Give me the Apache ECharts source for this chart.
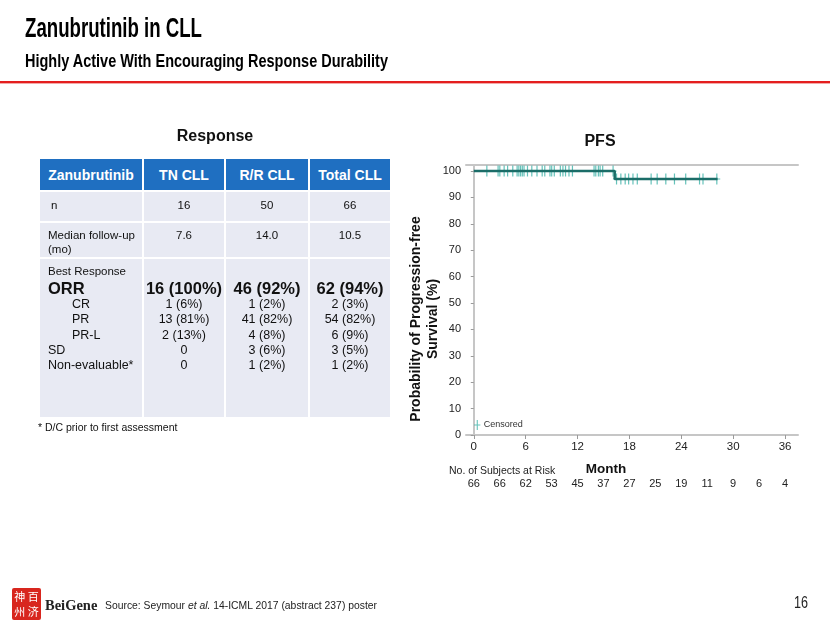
<!DOCTYPE html>
<html><head><meta charset="utf-8">
<script src="https://cdn.jsdelivr.net/npm/echarts@6/dist/echarts.min.js"></script>
<style>
html,body{margin:0;padding:0;background:#fff;}
#page{position:relative;width:830px;height:623px;overflow:hidden;font-family:"Liberation Sans",Arial,sans-serif;color:#111;}
#chart{position:absolute;left:0;top:0;width:830px;height:623px;}
.abs{position:absolute;white-space:nowrap;}
.fit{display:inline-block;transform-origin:0 50%;}
.cell{position:absolute;background:#e8eaf3;}
.hcell{position:absolute;background:#1f6fc1;color:#fff;font-weight:bold;font-size:14px;display:flex;align-items:center;justify-content:center;}
.t{position:absolute;white-space:nowrap;line-height:16px;}
.c{transform:translateX(-50%);}
</style>
</head><body><div id="page">
<div id="chart"></div>
</div>
<script>
// ---------- data ----------
const tableColumns = ["Zanubrutinib", "TN CLL", "R/R CLL", "Total CLL"];
const nRow = ["n", "16", "50", "66"];
const followUpRow = ["Median follow-up", "7.6", "14.0", "10.5"];
const responseLabels = ["ORR", "CR", "PR", "PR-L", "SD", "Non-evaluable*"];
const tnValues = ["16 (100%)", "1 (6%)", "13 (81%)", "2 (13%)", "0", "0"];
const rrValues = ["46 (92%)", "1 (2%)", "41 (82%)", "4 (8%)", "3 (6%)", "1 (2%)"];
const totalValues = ["62 (94%)", "2 (3%)", "54 (82%)", "6 (9%)", "3 (5%)", "1 (2%)"];

const kmMonths = [0, 16.3, 28.2];
const kmSurvival = [100, 97, 97];
const censorMonthsHigh = [1.5, 2.8, 3.0, 3.5, 3.9, 4.5, 5.0, 5.2, 5.4, 5.6, 5.8, 6.2, 6.7, 7.3, 7.9, 8.2, 8.8, 9.0, 9.3, 10.0, 10.3, 10.6, 11.0, 11.4, 13.9, 14.1, 14.4, 14.6, 14.9, 16.1];
const censorMonthsLow = [16.5, 17.0, 17.5, 17.9, 18.4, 18.9, 20.5, 21.2, 22.2, 23.2, 24.5, 26.1, 26.5, 28.1];
const censorSurvHigh = 100;
const censorSurvLow = 97;
const monthTicks = [0, 6, 12, 18, 24, 30, 36];
const survivalTicks = [0, 10, 20, 30, 40, 50, 60, 70, 80, 90, 100];
const riskMonths = [0, 3, 6, 9, 12, 15, 18, 21, 24, 27, 30, 33, 36];
const atRisk = [66, 66, 62, 53, 45, 37, 27, 25, 19, 11, 9, 6, 4];

// ---------- slide chrome & table (HTML) ----------
const page = document.getElementById('page');
function add(html){ page.insertAdjacentHTML('beforeend', html); }
const SANS = "'Liberation Sans',Arial,sans-serif";

add(`<div class="abs" style="left:25px;top:12px;font-family:${SANS};font-weight:bold;font-size:28px;line-height:32px;color:#000;"><span class="fit" data-w="177">Zanubrutinib in CLL</span></div>`);
add(`<div class="abs" style="left:25px;top:50px;font-family:${SANS};font-weight:bold;font-size:18.5px;line-height:22px;color:#000;"><span class="fit" data-w="363">Highly Active With Encouraging Response Durability</span></div>`);
add(`<div class="abs" style="left:0;top:81px;width:830px;height:2px;background:#e41e1e;"></div>`);
add(`<div class="abs" style="left:0;top:83px;width:830px;height:1px;background:#f4a9a9;"></div>`);

// table
const colX = [39, 143, 225, 309, 391];
const rowY = [159, 191, 222, 258, 418];
for (let c = 0; c < 4; c++) {
  add(`<div class="hcell" style="left:${colX[c]+1}px;top:${rowY[0]}px;width:${colX[c+1]-colX[c]-2}px;height:${rowY[1]-rowY[0]-1}px;">${tableColumns[c]}</div>`);
  for (let r = 1; r < 4; r++) {
    add(`<div class="cell" style="left:${colX[c]+1}px;top:${rowY[r]+1}px;width:${colX[c+1]-colX[c]-2}px;height:${rowY[r+1]-rowY[r]-2}px;"></div>`);
  }
}
add(`<div class="abs" style="left:215px;top:127px;font-weight:bold;font-size:16px;transform:translateX(-50%);">Response</div>`);
const colC = [0, 184, 267, 350];
function txt(x, yc, s, size, extra, center){
  add(`<div class="t${center?' c':''}" style="left:${x}px;top:${yc-8}px;font-size:${size}px;${extra||''}">${s}</div>`);
}
txt(51, 205, nRow[0], 11.5);
for (let c = 1; c < 4; c++) txt(colC[c], 205, nRow[c], 11.5, '', true);
txt(48, 235, followUpRow[0], 11.5);
txt(48, 249, '(mo)', 11.5);
for (let c = 1; c < 4; c++) txt(colC[c], 235, followUpRow[c], 11.5, '', true);
txt(48, 271, 'Best Response', 11.5);
const rowYs = [288, 304, 319, 335, 350, 365];
const indents = [48, 72, 72, 72, 48, 48];
const valueCols = [tnValues, rrValues, totalValues];
for (let i = 0; i < responseLabels.length; i++) {
  const big = i === 0;
  const st = big ? 'font-weight:bold;' : '';
  const sz = big ? 16.5 : 12.5;
  txt(indents[i], rowYs[i], responseLabels[i], sz, st);
  for (let c = 0; c < 3; c++) txt(colC[c+1], rowYs[i], valueCols[c][i], sz, st, true);
}
txt(38, 427, '* D/C prior to first assessment', 10.5);

// footer
add(`<div class="abs" style="left:12px;top:588px;width:29px;height:32px;background:#d8261e;border-radius:2px;"></div>`);
add(`<div class="abs" style="left:13px;top:589px;width:27px;height:30px;color:#fff;font-family:'Noto Sans CJK SC',sans-serif;font-size:11px;line-height:14px;display:grid;grid-template-columns:1fr 1fr;text-align:center;"><span>神</span><span>百</span><span>州</span><span>济</span></div>`);
add(`<div class="abs" style="left:45px;top:596px;font-family:'Liberation Serif','Times New Roman',serif;font-weight:bold;font-size:14.5px;line-height:18px;color:#222;">BeiGene</div>`);
add(`<div class="abs" style="left:105px;top:598px;font-family:${SANS};font-size:11px;line-height:14px;color:#222;"><span class="fit" data-w="272">Source: Seymour <i>et al.</i> 14-ICML 2017 (abstract 237) poster</span></div>`);
add(`<div class="abs" style="left:794px;top:593px;font-family:${SANS};font-size:17px;line-height:20px;color:#222;"><span class="fit" data-w="14">16</span></div>`);

document.querySelectorAll('.fit').forEach(el => {
  const w = el.getBoundingClientRect().width;
  const target = +el.dataset.w;
  el.style.transform = `scaleX(${target / w})`;
});

// ---------- chart ----------
const chart = echarts.init(document.getElementById('chart'), null, {renderer: 'canvas'});
const plus = 'path://M3,0h1.2v4.9h2.8v1.2h-2.8v4.9h-1.2v-4.9h-3v-1.2h3z';
const axisFont = '"Liberation Sans", Arial, sans-serif';
const option = {
  animation: false,
  grid: {left: 466, right: 32, top: 165, bottom: 188},
  legend: {
    data: ['Censored'], left: 469, top: 415, itemWidth: 7, itemHeight: 10, itemGap: 4,
    textStyle: {fontSize: 9, color: '#333', fontFamily: axisFont, padding: [0,0,0,-2]}
  },
  graphic: [
    {type: 'text', x: 600, y: 142, style: {text: 'PFS', font: 'bold 16px "Liberation Sans", Arial, sans-serif', textAlign: 'center', textVerticalAlign: 'middle', fill: '#111'}},
    {type: 'text', x: 424.5, y: 319, rotation: Math.PI / 2, style: {text: 'Probability of Progression-free\nSurvival (%)', font: 'bold 14px "Liberation Sans", Arial, sans-serif', lineHeight: 17, textAlign: 'center', textVerticalAlign: 'middle', fill: '#111'}},
    {type: 'text', x: 606, y: 469, style: {text: 'Month', font: 'bold 13.5px "Liberation Sans", Arial, sans-serif', textAlign: 'center', textVerticalAlign: 'middle', fill: '#111'}},
    {type: 'text', x: 449, y: 471, style: {text: 'No. of Subjects at Risk', font: '10.5px "Liberation Sans", Arial, sans-serif', textAlign: 'left', textVerticalAlign: 'middle', fill: '#222'}}
  ],
  xAxis: [
    {type: 'value', min: -0.9, max: 37.5, position: 'bottom',
     axisLine: {show: true, onZero: false, lineStyle: {color: '#c6c6c6', width: 2}},
     axisTick: {show: true, customValues: monthTicks, length: 4, lineStyle: {color: '#9a9a9a'}},
     axisLabel: {customValues: monthTicks, fontFamily: axisFont, fontSize: 11.5, color: '#222', margin: 6},
     splitLine: {show: false}},
    {type: 'value', min: -0.9, max: 37.5, position: 'top',
     axisLine: {show: true, onZero: false, lineStyle: {color: '#c6c6c6', width: 2}},
     axisTick: {show: false}, axisLabel: {show: false}, splitLine: {show: false}},
    {type: 'value', min: -0.9, max: 37.5, position: 'bottom', offset: 41,
     axisLine: {show: false}, axisTick: {show: false}, splitLine: {show: false},
     axisLabel: {customValues: riskMonths, fontFamily: axisFont, fontSize: 11, color: '#222', margin: 2,
       formatter: v => String(atRisk[riskMonths.indexOf(v)])}}
  ],
  yAxis: {type: 'value', min: 0, max: 102.3,
    axisLine: {show: true, lineStyle: {color: '#c6c6c6', width: 2}},
    axisTick: {show: true, customValues: survivalTicks, length: 3, lineStyle: {color: '#9a9a9a'}},
    axisLabel: {customValues: survivalTicks, fontFamily: axisFont, fontSize: 11, color: '#222', margin: 5},
    splitLine: {show: false}},
  series: [
    {name: 'Censored', type: 'scatter', symbol: plus, symbolSize: [7, 11], itemStyle: {color: '#3fb3a9'}, z: 2,
     data: censorMonthsHigh.map(m => [m, censorSurvHigh]).concat(censorMonthsLow.map(m => [m, censorSurvLow]))},
    {name: 'PFS', type: 'line', step: 'end', showSymbol: false, z: 3,
     lineStyle: {color: '#1b6d68', width: 2.5},
     data: kmMonths.map((m, i) => [m, kmSurvival[i]])}
  ]
};
chart.setOption(option);
</script>
</body></html>
